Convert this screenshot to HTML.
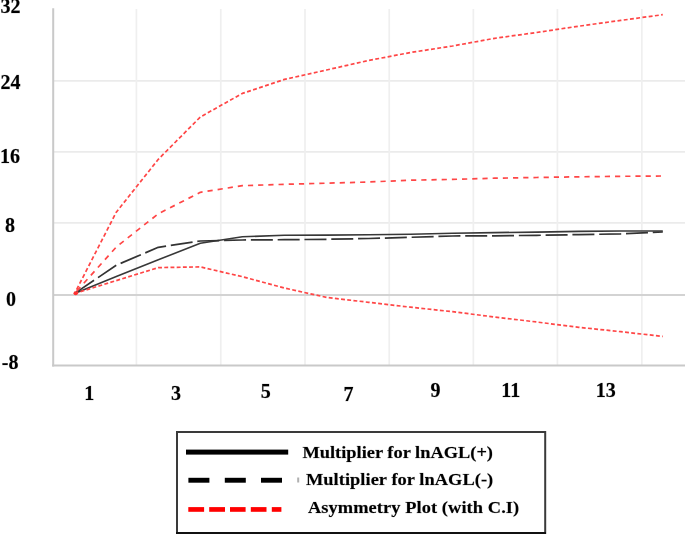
<!DOCTYPE html>
<html><head><meta charset="utf-8"><style>
html,body{margin:0;padding:0;background:#fff;width:685px;height:534px;overflow:hidden}
svg{display:block}
text{font-family:"Liberation Serif","Times New Roman",serif;font-weight:bold;fill:#000;stroke:rgba(0,0,0,0.3);stroke-width:0.6px}
</style></head><body>
<svg width="685" height="534" viewBox="0 0 685 534">
<rect width="685" height="534" fill="#fff"/>
<g>
<line x1="54" y1="80.86" x2="685" y2="80.86" stroke="#ebebeb" stroke-width="1.8"/>
<line x1="54" y1="151.83" x2="685" y2="151.83" stroke="#ebebeb" stroke-width="1.8"/>
<line x1="54" y1="222.92" x2="685" y2="222.92" stroke="#ebebeb" stroke-width="1.8"/>
<line x1="136.4" y1="9" x2="136.4" y2="365" stroke="#efefef" stroke-width="1.7"/>
<line x1="220.75" y1="9" x2="220.75" y2="365" stroke="#efefef" stroke-width="1.7"/>
<line x1="305" y1="9" x2="305" y2="365" stroke="#efefef" stroke-width="1.7"/>
<line x1="389.25" y1="9" x2="389.25" y2="365" stroke="#efefef" stroke-width="1.7"/>
<line x1="473.35" y1="9" x2="473.35" y2="365" stroke="#efefef" stroke-width="1.7"/>
<line x1="557.4" y1="9" x2="557.4" y2="365" stroke="#efefef" stroke-width="1.7"/>
<line x1="641.8" y1="9" x2="641.8" y2="365" stroke="#efefef" stroke-width="1.7"/>
<line x1="53" y1="295" x2="685" y2="295" stroke="#d3d3d3" stroke-width="2.2"/>
<line x1="53.2" y1="8.3" x2="53.2" y2="366.5" stroke="#c9c9c9" stroke-width="2"/>
<line x1="52.2" y1="365.5" x2="685" y2="365.5" stroke="#c9c9c9" stroke-width="2.2"/>
<path d="M74.6 293.5 L116.3 276.6 L158.3 259.8 L200.3 243.2 L242.4 236.8 L284.4 235.3 L326.5 235.1 L368.5 234.8 L410.5 234.2 L452.6 233.3 L494.6 232.6 L536.7 232.1 L578.7 231.4 L620.7 231.0 L662.8 231.0" fill="none" stroke="#383838" stroke-width="1.6" stroke-linejoin="round"/>
<path d="M74.6 293.5 L116.3 265.2 L158.3 247.3 L200.3 241.0 L242.4 240.0 L284.4 239.7 L326.5 239.3 L368.5 238.5 L410.5 237.3 L452.6 236.0 L494.6 235.8 L536.7 235.3 L578.7 234.6 L620.7 233.9 L662.8 232.0" fill="none" stroke="#333" stroke-width="1.7" stroke-dasharray="22 4.8" stroke-dashoffset="25.3" stroke-linejoin="round"/>
<path d="M74.60 293.50 L75.47 291.79 M76.62 289.56 L78.49 285.90 M79.64 283.67 L81.51 280.01 M82.66 277.78 L84.53 274.12 M85.68 271.88 L87.55 268.22 M88.70 265.99 L90.57 262.33 M91.72 260.10 L93.59 256.44 M94.73 254.21 L96.61 250.55 M97.75 248.32 L99.63 244.66 M100.77 242.42 L102.65 238.76 M103.79 236.53 L105.67 232.87 M106.81 230.64 L108.69 226.98 M109.83 224.75 L111.71 221.09 M112.85 218.85 L114.72 215.20 M115.87 212.96 L116.26 212.20 L118.26 209.68 M119.80 207.74 L122.33 204.56 M123.87 202.62 L126.40 199.45 M127.94 197.51 L130.46 194.33 M132.01 192.39 L134.53 189.21 M136.07 187.27 L138.60 184.09 M140.14 182.15 L142.67 178.97 M144.21 177.03 L146.74 173.85 M148.28 171.91 L150.81 168.73 M152.35 166.79 L154.87 163.61 M156.42 161.67 L158.30 159.30 L159.02 158.57 M160.76 156.83 L163.60 153.97 M165.33 152.23 L168.17 149.37 M169.91 147.62 L172.75 144.76 M174.48 143.02 L177.32 140.16 M179.06 138.42 L181.90 135.56 M183.63 133.81 L186.47 130.95 M188.21 129.21 L191.05 126.35 M192.78 124.61 L195.62 121.75 M197.35 120.00 L200.20 117.14 M202.27 115.92 L205.73 113.98 M207.83 112.79 L211.29 110.85 M213.39 109.67 L216.85 107.73 M218.96 106.55 L222.41 104.61 M224.52 103.43 L227.97 101.49 M230.08 100.31 L233.53 98.37 M235.64 97.18 L239.09 95.25 M241.20 94.06 L242.38 93.40 L244.83 92.58 M247.10 91.83 L250.83 90.59 M253.10 89.83 L256.82 88.59 M259.10 87.83 L262.82 86.59 M265.09 85.84 L268.82 84.60 M271.09 83.84 L274.81 82.60 M277.09 81.84 L280.81 80.60 M283.08 79.85 L284.42 79.40 L286.87 78.85 M289.20 78.33 L293.01 77.48 M295.34 76.96 L299.16 76.10 M301.49 75.58 L305.31 74.73 M307.64 74.21 L311.45 73.36 M313.78 72.83 L317.60 71.98 M319.93 71.46 L323.75 70.61 M326.08 70.09 L326.46 70.00 L329.90 69.22 M332.22 68.70 L336.04 67.84 M338.37 67.31 L342.18 66.45 M344.51 65.92 L348.33 65.06 M350.66 64.53 L354.47 63.67 M356.80 63.14 L360.62 62.28 M362.95 61.76 L366.76 60.89 M369.09 60.39 L372.93 59.66 M375.28 59.21 L379.12 58.48 M381.46 58.03 L385.30 57.30 M387.64 56.86 L391.48 56.13 M393.83 55.68 L397.67 54.95 M400.01 54.50 L403.85 53.77 M406.19 53.33 L410.03 52.60 M412.38 52.21 L416.24 51.62 M418.60 51.25 L422.46 50.66 M424.82 50.29 L428.68 49.70 M431.03 49.33 L434.89 48.73 M437.25 48.37 L441.11 47.77 M443.46 47.41 L447.32 46.81 M449.68 46.45 L452.58 46.00 L453.53 45.83 M455.88 45.40 L459.72 44.69 M462.07 44.26 L465.91 43.56 M468.26 43.13 L472.10 42.42 M474.45 41.99 L478.29 41.29 M480.64 40.86 L484.48 40.16 M486.83 39.73 L490.67 39.02 M493.02 38.59 L494.62 38.30 L496.88 37.99 M499.24 37.66 L503.11 37.13 M505.47 36.80 L509.33 36.27 M511.69 35.94 L515.56 35.41 M517.92 35.09 L521.79 34.55 M524.15 34.23 L528.02 33.69 M530.38 33.37 L534.25 32.83 M536.61 32.51 L536.66 32.50 L540.47 31.93 M542.83 31.58 L546.69 31.00 M549.05 30.64 L552.91 30.06 M555.27 29.71 L559.13 29.13 M561.49 28.78 L565.35 28.20 M567.70 27.85 L571.57 27.27 M573.92 26.92 L577.79 26.34 M580.15 26.00 L584.01 25.47 M586.37 25.14 L590.24 24.61 M592.60 24.28 L596.47 23.75 M598.83 23.42 L602.70 22.89 M605.06 22.56 L608.93 22.03 M611.29 21.70 L615.16 21.17 M617.52 20.84 L620.74 20.40 L621.38 20.31 M623.75 19.99 L627.61 19.47 M629.98 19.15 L633.84 18.62 M636.21 18.30 L640.07 17.78 M642.44 17.46 L646.30 16.93 M648.67 16.61 L652.54 16.09 M654.90 15.77 L658.77 15.24 M661.13 14.92 L662.78 14.70" fill="none" stroke="#ff4646" stroke-width="1.7" stroke-linecap="butt" stroke-linejoin="round"/>
<path d="M76.75 291.11 L80.34 287.09 M83.80 283.23 L87.40 279.21 M90.86 275.35 L94.46 271.33 M97.92 267.47 L101.52 263.45 M104.98 259.59 L108.58 255.57 M112.04 251.71 L115.64 247.70 M119.56 244.40 L123.74 241.09 M127.76 237.91 L131.95 234.61 M135.97 231.43 L140.16 228.13 M144.18 224.95 L148.36 221.65 M152.39 218.47 L156.57 215.17 M160.87 212.49 L165.56 210.09 M170.07 207.78 L174.76 205.38 M179.28 203.07 L183.97 200.67 M188.48 198.37 L193.17 195.97 M197.68 193.66 L200.34 192.30 L202.57 191.95 M207.52 191.17 L212.66 190.37 M217.61 189.59 L222.75 188.78 M227.70 188.00 L232.85 187.20 M237.79 186.42 L242.38 185.70 L242.94 185.68 M247.94 185.51 L253.14 185.34 M258.14 185.18 L263.33 185.00 M268.33 184.84 L273.53 184.66 M278.53 184.50 L283.72 184.32 M288.72 184.19 L293.92 184.05 M298.92 183.92 L304.12 183.78 M309.12 183.65 L314.31 183.52 M319.31 183.39 L324.51 183.25 M329.51 183.11 L334.71 182.96 M339.71 182.82 L344.90 182.67 M349.90 182.53 L355.10 182.38 M360.10 182.24 L365.30 182.09 M370.29 181.92 L375.49 181.70 M380.49 181.49 L385.68 181.26 M390.68 181.05 L395.87 180.83 M400.87 180.61 L406.07 180.39 M411.06 180.19 L416.26 180.09 M421.26 180.00 L426.46 179.90 M431.46 179.80 L436.66 179.70 M441.66 179.61 L446.86 179.51 M451.86 179.41 L452.58 179.40 L457.05 179.27 M462.05 179.13 L467.25 178.98 M472.25 178.84 L477.45 178.69 M482.44 178.55 L487.64 178.40 M492.64 178.26 L494.62 178.20 L497.84 178.15 M502.84 178.06 L508.04 177.98 M513.04 177.89 L518.24 177.81 M523.24 177.72 L528.44 177.64 M533.44 177.55 L536.66 177.50 L538.64 177.47 M543.63 177.38 L548.83 177.30 M553.83 177.21 L559.03 177.13 M564.03 177.04 L569.23 176.96 M574.23 176.87 L578.70 176.80 L579.43 176.79 M584.43 176.73 L589.63 176.67 M594.63 176.61 L599.83 176.55 M604.83 176.49 L610.03 176.43 M615.03 176.37 L620.23 176.31 M625.23 176.27 L630.43 176.23 M635.43 176.20 L640.63 176.16 M645.63 176.12 L650.83 176.09 M655.83 176.05 L661.03 176.01" fill="none" stroke="#ff4646" stroke-width="1.7" stroke-linecap="butt" stroke-linejoin="round"/>
<path d="M74.60 293.50 L78.30 292.35 M80.52 291.67 L84.26 290.51 M86.48 289.82 L90.23 288.66 M92.45 287.97 L96.19 286.81 M98.41 286.13 L102.16 284.97 M104.38 284.28 L108.12 283.12 M110.34 282.43 L114.09 281.27 M116.31 280.58 L120.06 279.43 M122.27 278.74 L126.02 277.58 M128.24 276.90 L131.99 275.74 M134.21 275.05 L137.95 273.89 M140.17 273.21 L143.92 272.05 M146.14 271.36 L149.88 270.20 M152.10 269.52 L155.85 268.36 M158.07 267.67 L158.30 267.60 L161.96 267.54 M164.27 267.50 L168.17 267.44 M170.48 267.40 L174.38 267.33 M176.69 267.29 L180.59 267.23 M182.90 267.19 L186.80 267.13 M189.11 267.09 L193.01 267.02 M195.32 266.98 L199.22 266.92 M201.50 267.17 L205.31 268.06 M207.57 268.58 L211.38 269.47 M213.63 270.00 L217.44 270.89 M219.70 271.41 L223.51 272.30 M225.77 272.83 L229.58 273.72 M231.84 274.24 L235.65 275.13 M237.90 275.66 L241.71 276.54 M243.96 277.12 L247.74 278.14 M249.98 278.74 L253.77 279.76 M256.01 280.36 L259.79 281.38 M262.03 281.98 L265.81 283.00 M268.05 283.60 L271.83 284.62 M274.07 285.22 L277.86 286.24 M280.10 286.84 L283.88 287.85 M286.14 288.38 L289.95 289.24 M292.21 289.74 L296.03 290.60 M298.29 291.10 L302.11 291.96 M304.37 292.46 L308.19 293.31 M310.45 293.82 L314.27 294.67 M316.53 295.18 L320.35 296.03 M322.61 296.54 L326.43 297.39 M328.72 297.66 L332.60 298.12 M334.89 298.38 L338.77 298.84 M341.07 299.10 L344.95 299.55 M347.24 299.82 L351.12 300.27 M353.42 300.54 L357.29 300.99 M359.59 301.26 L363.47 301.71 M365.76 301.98 L368.50 302.30 L369.64 302.43 M371.94 302.70 L375.81 303.15 M378.11 303.42 L381.99 303.87 M384.28 304.14 L388.16 304.59 M390.46 304.86 L394.33 305.31 M396.63 305.58 L400.51 306.03 M402.80 306.30 L406.68 306.75 M408.98 307.02 L410.54 307.20 L412.86 307.45 M415.15 307.69 L419.03 308.11 M421.33 308.36 L425.21 308.77 M427.51 309.02 L431.39 309.43 M433.69 309.68 L437.57 310.09 M439.87 310.34 L443.75 310.75 M446.05 311.00 L449.93 311.42 M452.23 311.66 L452.58 311.70 L456.10 312.14 M458.40 312.43 L462.27 312.92 M464.56 313.21 L468.44 313.70 M470.73 313.99 L474.61 314.48 M476.90 314.77 L480.77 315.25 M483.07 315.54 L486.94 316.03 M489.23 316.32 L493.11 316.81 M495.40 317.09 L499.28 317.55 M501.57 317.83 L505.45 318.29 M507.75 318.56 L511.62 319.02 M513.92 319.30 L517.79 319.76 M520.09 320.03 L523.97 320.49 M526.26 320.76 L530.14 321.22 M532.43 321.50 L536.31 321.96 M538.60 322.25 L542.48 322.73 M544.77 323.02 L548.64 323.51 M550.94 323.80 L554.81 324.29 M557.11 324.58 L560.98 325.07 M563.27 325.36 L567.15 325.84 M569.44 326.13 L573.31 326.62 M575.61 326.91 L578.70 327.30 L579.48 327.38 M581.78 327.62 L585.66 328.03 M587.96 328.27 L591.84 328.68 M594.14 328.92 L598.02 329.32 M600.32 329.56 L604.21 329.97 M606.50 330.21 L610.39 330.62 M612.68 330.86 L616.57 331.26 M618.87 331.50 L620.74 331.70 L622.75 331.92 M625.04 332.18 L628.92 332.61 M631.22 332.87 L635.10 333.31 M637.40 333.56 L641.27 334.00 M643.57 334.25 L647.45 334.69 M649.75 334.94 L653.63 335.38 M655.92 335.63 L659.80 336.07 M662.10 336.32 L662.78 336.40" fill="none" stroke="#ff4646" stroke-width="1.7" stroke-linecap="butt" stroke-linejoin="round"/>
<ellipse cx="75.7" cy="293.2" rx="2.2" ry="2.0" fill="#ff3030"/>
<text x="10.6" y="13.3" font-size="20" text-anchor="middle">32</text>
<text x="10.5" y="88.9" font-size="20" text-anchor="middle">24</text>
<text x="9.9" y="162.8" font-size="20" text-anchor="middle">16</text>
<text x="10.1" y="232" font-size="20" text-anchor="middle">8</text>
<text x="10.9" y="305.5" font-size="20" text-anchor="middle">0</text>
<text x="10.2" y="369.1" font-size="20" text-anchor="middle">-8</text>
<text x="89.2" y="399.8" font-size="20" text-anchor="middle">1</text>
<text x="176" y="399.8" font-size="20" text-anchor="middle">3</text>
<text x="265.7" y="398" font-size="20" text-anchor="middle">5</text>
<text x="348.6" y="400.7" font-size="20" text-anchor="middle">7</text>
<text x="435.6" y="396.9" font-size="20" text-anchor="middle">9</text>
<text x="510.8" y="396.9" font-size="20" text-anchor="middle">11</text>
<text x="605.8" y="396.9" font-size="20" text-anchor="middle">13</text>
<rect x="177" y="432" width="368.2" height="101" fill="none" stroke="#3a3a3a" stroke-width="2"/>
<line x1="176" y1="533" x2="546" y2="533" stroke="#111" stroke-width="2"/>
<rect x="186" y="449.6" width="102.2" height="5" fill="#000"/>
<rect x="188.4" y="477.8" width="21" height="4.9" fill="#000"/>
<rect x="224.8" y="477.8" width="21" height="4.9" fill="#000"/>
<rect x="261" y="477.8" width="21" height="4.9" fill="#000"/>
<rect x="188.3" y="507.1" width="15.8" height="4.7" fill="#ff0000"/>
<rect x="209.2" y="507.1" width="15.8" height="4.7" fill="#ff0000"/>
<rect x="230" y="507.1" width="15.6" height="4.7" fill="#ff0000"/>
<rect x="250.8" y="507.1" width="15.7" height="4.7" fill="#ff0000"/>
<rect x="271.8" y="507.1" width="9.6" height="4.7" fill="#ff0000"/>
<rect x="297.2" y="477.5" width="2" height="5" fill="#b0b0b0"/>
<text transform="translate(302.4 458.2) scale(1 0.94)" x="0" y="0" font-size="18.4" letter-spacing="0">Multiplier for lnAGL(+)</text>
<text transform="translate(305.9 484.8) scale(1 0.94)" x="0" y="0" font-size="18.4" letter-spacing="0.05">Multiplier for lnAGL(-)</text>
<text transform="translate(307.9 513.0) scale(1 0.94)" x="0" y="0" font-size="18.4" letter-spacing="0.08">Asymmetry Plot (with C.I)</text>
</g>
</svg>
</body></html>
